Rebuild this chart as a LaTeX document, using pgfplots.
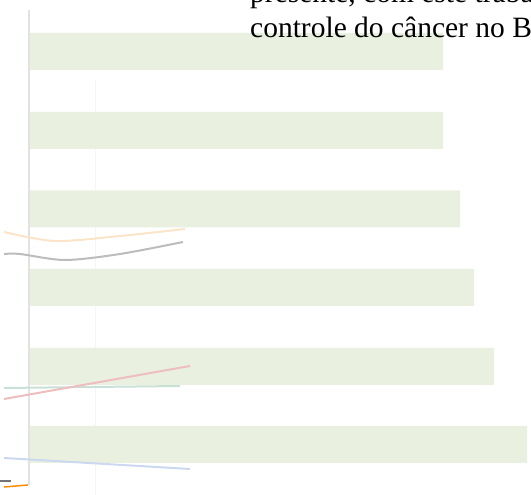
\documentclass[border=0pt]{standalone}
\usepackage{fontspec}
\setmainfont{Liberation Serif}
\usepackage{pgfplots}
\pgfplotsset{compat=1.18}

\definecolor{barfill}{RGB}{233,240,224}
\definecolor{axisgrey}{RGB}{226,226,226}
\definecolor{ghostorange}{RGB}{251,228,200}
\definecolor{ghostgrey}{RGB}{188,188,190}
\definecolor{ghostteal}{RGB}{200,224,214}
\definecolor{ghostred}{RGB}{238,190,190}
\definecolor{ghostblue}{RGB}{204,216,240}

\begin{document}
\begin{tikzpicture}
\useasboundingbox (0,0) rectangle (531pt,495pt);
\clip (0,0) rectangle (531pt,495pt);
\begin{axis}[
    at={(0,0)}, anchor=south west,
    scale only axis,
    width=531pt, height=495pt,
    xmin=-30, xmax=501,
    ymin=0, ymax=495,
    axis lines=none,
    clip=false,
]
% faint grid line
\addplot[draw=black!4, line width=1pt] coordinates {(65,0) (65,415)};

% bars
\addplot[xbar, bar width=37, bar shift=0pt, fill=barfill, draw=none]
  coordinates {(413,443.5) (413,364.5) (430,286) (444,207.5) (464,128.5) (497,50.5)};

% axis line
\addplot[draw=axisgrey, line width=2pt] coordinates {(-1,485) (-1,10)};

% faded lines of the chart behind
\addplot[draw=ghostorange, line width=2pt, smooth] coordinates {(-26,263) (25,254) (90,259) (155,266)};
\addplot[draw=ghostgrey, line width=2pt, smooth] coordinates {(-26,241) (-10,241) (35,235) (90,241) (153,253)};
\addplot[draw=ghostteal, line width=2pt] coordinates {(-26,107) (150,109)};
\addplot[draw=ghostred, line width=2pt] coordinates {(-26,96) (160,129)};
\addplot[draw=ghostblue, line width=2pt] coordinates {(-26,37) (160,26)};
\addplot[draw=black!55, line width=1.2pt] coordinates {(-30,14) (-19,14)};
\addplot[draw=orange!90!yellow, line width=1.5pt] coordinates {(-26,8) (-2,10)};

% text over the chart
\node[anchor=base west, inner sep=0pt, font=\fontsize{29.5}{33}\selectfont]
  at (axis cs:220,457) {controle do câncer no B};
\node[anchor=base west, inner sep=0pt, font=\fontsize{29.5}{33}\selectfont]
  at (axis cs:220,492) {presente, com este trabalho};
\end{axis}
\end{tikzpicture}
\end{document}
